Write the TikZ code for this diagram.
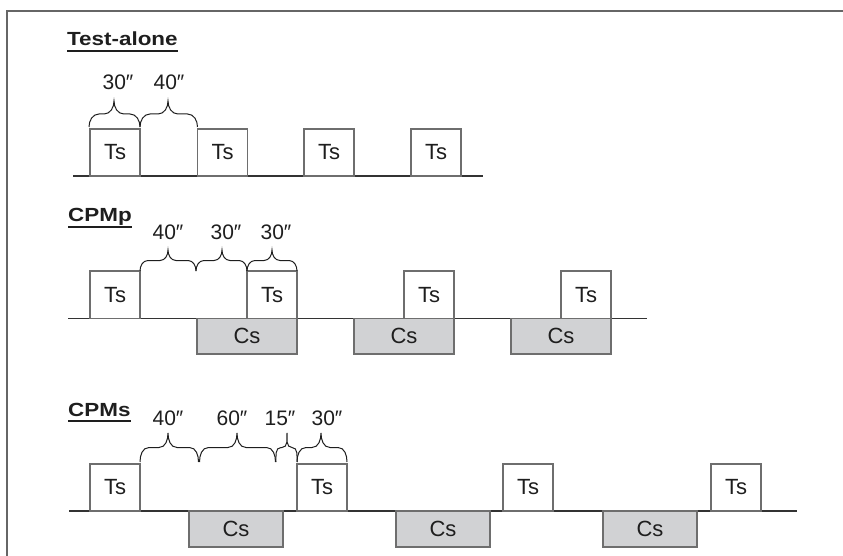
\documentclass[tikz,border=0pt]{standalone}
\usepackage{fontspec}
\setmainfont{Liberation Sans}
\newfontfamily\titlefont[FakeStretch=1.18]{Liberation Sans}
\definecolor{framecol}{HTML}{666666}
\definecolor{boxgray}{HTML}{6E6E6E}
\definecolor{csfill}{HTML}{D1D2D4}
\definecolor{linecol}{HTML}{333333}
\definecolor{txt}{HTML}{1E1E1E}
% curly brace: x-left, x-tip, x-right, y of the ends, amplitude, curl radius
\newcommand{\cbr}[6]{%
  \draw[brcline] (#1,#4) to[out=90,in=180] ({#1+#6},{#4-#5/2})
    -- ({#2-#6},{#4-#5/2}) to[out=0,in=-90] (#2,{#4-#5})
    to[out=-90,in=180] ({#2+#6},{#4-#5/2})
    -- ({#3-#6},{#4-#5/2}) to[out=0,in=90] (#3,#4);}
\begin{document}
\begin{tikzpicture}[x=1pt,y=-1pt,
  tsbox/.style={draw=boxgray,line width=1.1pt,fill=white,minimum width=50pt,minimum height=47pt,inner sep=0pt,text=txt,font=\fontsize{22}{22}\selectfont},
  csbox/.style={draw=boxgray,line width=1.1pt,fill=csfill,minimum height=36pt,inner sep=0pt,text=txt,font=\fontsize{22}{22}\selectfont},
  timeline/.style={draw=linecol,line width=1.1pt},
  brcline/.style={draw=txt,line width=1pt},
  lbl/.style={anchor=base,inner sep=0pt,text=txt,font=\fontsize{21}{21}\selectfont},
  ttl/.style={anchor=base west,inner sep=0pt,text=txt,font=\titlefont\bfseries\fontsize{19}{19}\selectfont},
  uline/.style={draw=txt,line width=1.8pt}]
\useasboundingbox (0,0) rectangle (843,556);
% frame
\draw[framecol,line width=1.6pt] (843,11) -- (7,11) -- (7,556);

% ---------------- Test-alone ----------------
\node[ttl] (t1) at (67,46) {Test-alone};
\draw[uline] ([yshift=-5pt]t1.base west) -- ([yshift=-5pt]t1.base east);
\coordinate (la) at (73,176);
\coordinate (ra) at (483,176);
\draw[timeline] (la) -- (ra);
\node[tsbox] (a1) at (115,152.5) {Ts};
\node[tsbox] (a2) at (222.5,152.5) {Ts};
\node[tsbox] (a3) at (329,152.5) {Ts};
\node[tsbox] (a4) at (436,152.5) {Ts};
\cbr{89}{114}{140}{127}{26}{10}
\cbr{140}{168}{197.5}{127}{26}{10}
\node[lbl] (al1) at (118,90) {30″};
\node[lbl] (al2) at (169,90) {40″};

% ---------------- CPMp ----------------
\node[ttl] (t2) at (68,222) {CPMp};
\draw[uline] ([yshift=-5pt]t2.base west) -- ([yshift=-5pt]t2.base east);
\coordinate (lb) at (68,318.5);
\coordinate (rb) at (647,318.5);
\draw[timeline] (lb) -- (rb);
\node[csbox,minimum width=100pt,minimum height=35.5pt] (bc1) at (247,336.25) {Cs};
\node[csbox,minimum width=100pt,minimum height=35.5pt] (bc2) at (404,336.25) {Cs};
\node[csbox,minimum width=100pt,minimum height=35.5pt] (bc3) at (561,336.25) {Cs};
\node[tsbox,minimum height=47.5pt] (b1) at (115,294.75) {Ts};
\node[tsbox,minimum height=47.5pt] (b2) at (272,294.75) {Ts};
\node[tsbox,minimum height=47.5pt] (b3) at (429,294.75) {Ts};
\node[tsbox,minimum height=47.5pt] (b4) at (586,294.75) {Ts};
\cbr{140}{168}{196}{271}{21}{8}
\cbr{196}{222}{247}{271}{21}{8}
\cbr{247}{272}{297}{271}{21}{8}
\node[lbl] (bl1) at (168,239) {40″};
\node[lbl] (bl2) at (226,239) {30″};
\node[lbl] (bl3) at (276,239) {30″};

% ---------------- CPMs ----------------
\node[ttl] (t3) at (68,416) {CPMs};
\draw[uline] ([yshift=-5pt]t3.base west) -- ([yshift=-5pt]t3.base east);
\coordinate (lc) at (69,511);
\coordinate (rc) at (797,511);
\draw[timeline] (lc) -- (rc);
\node[csbox,minimum width=94pt] (cc1) at (236,529) {Cs};
\node[csbox,minimum width=94pt] (cc2) at (443,529) {Cs};
\node[csbox,minimum width=94pt] (cc3) at (650,529) {Cs};
\node[tsbox] (c1) at (115,487.5) {Ts};
\node[tsbox] (c2) at (322,487.5) {Ts};
\node[tsbox] (c3) at (528,487.5) {Ts};
\node[tsbox] (c4) at (736,487.5) {Ts};
\cbr{140}{168}{198.5}{462}{29}{9}
\cbr{199.5}{237}{275.5}{462}{29}{9}
\cbr{276}{287}{297}{462}{29}{5}
\cbr{297}{321}{347}{462}{29}{9}
\node[lbl] (cl1) at (168,425) {40″};
\node[lbl] (cl2) at (232,425) {60″};
\node[lbl] (cl3) at (280,425) {15″};
\node[lbl] (cl4) at (327,425) {30″};
\end{tikzpicture}
\end{document}
